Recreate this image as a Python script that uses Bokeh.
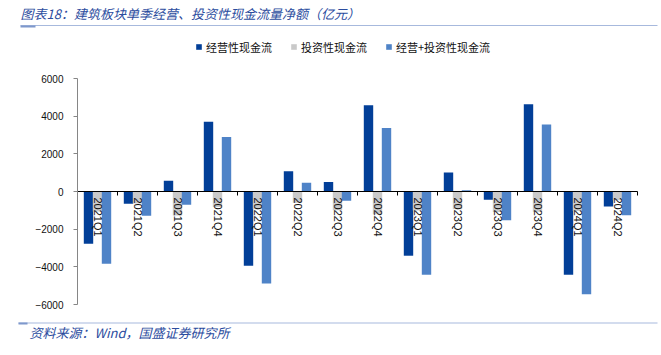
import numpy as np
from bokeh.plotting import figure
from bokeh.models import (Range1d, FixedTicker, Label, Legend, LegendItem,
                          BoxAnnotation, ColumnDataSource)
from bokeh.core.properties import value
from bokeh.transform import dodge
from bokeh.embed import file_html
from bokeh.resources import INLINE

# ---- data (亿元) ----
quarters = ["2021Q1", "2021Q2", "2021Q3", "2021Q4", "2022Q1", "2022Q2", "2022Q3",
            "2022Q4", "2023Q1", "2023Q2", "2023Q3", "2023Q4", "2024Q1", "2024Q2"]
operating = [-2780, -650, 570, 3710, -3940, 1070, 500, 4580, -3410, 1010, -440, 4630, -4420, -800]
investing = [-1060, -640, -1270, -820, -940, -600, -990, -1210, -1010, -940, -1090, -1070, -1030, -460]
combined = [-3840, -1290, -700, 2890, -4880, 470, -490, 3370, -4420, 70, -1530, 3560, -5450, -1260]
y_ticks = [-6000, -4000, -2000, 0, 2000, 4000, 6000]

series_names = ["经营性现金流", "投资性现金流", "经营+投资性现金流"]
colors = ["#023F98", "#C9C9C9", "#4F83C7"]
title_text = "图表18：建筑板块单季经营、投资性现金流量净额（亿元）"
source_text = "资料来源：Wind，国盛证券研究所"

# ---- layout (pixels) ----
W, H = 661, 355
plot_left, plot_right, plot_top, plot_bottom = 77, 637, 78, 304
n = len(quarters)
y_lo, y_hi = y_ticks[0], y_ticks[-1]
px_per_x = (plot_right - plot_left) / n
px_per_y = (plot_bottom - plot_top) / (y_hi - y_lo)
x_range = Range1d(-plot_left / px_per_x, n + (W - plot_right) / px_per_x)
y_range = Range1d(y_lo - (H - plot_bottom) / px_per_y, y_hi + plot_top / px_per_y)

src = ColumnDataSource(dict(
    x=[i + 0.5 for i in range(n)],
    q=quarters, op=operating, inv=investing, comb=combined,
))

p = figure(width=W, height=H, output_backend="svg", toolbar_location=None,
           x_range=x_range, y_range=y_range,
           min_border=0, min_border_left=0, min_border_right=0,
           min_border_top=0, min_border_bottom=0)
p.outline_line_color = None
p.xgrid.visible = False
p.ygrid.visible = False
p.background_fill_color = "white"
p.border_fill_color = "white"

w = 0.235
r1 = p.vbar(x=dodge("x", -0.225, range=p.x_range), top="op", bottom=0, width=w,
            source=src, fill_color=colors[0], line_color=None)
r2 = p.vbar(x="x", top="inv", bottom=0, width=w,
            source=src, fill_color=colors[1], line_color=None)
r3 = p.vbar(x=dodge("x", 0.225, range=p.x_range), top="comb", bottom=0, width=w,
            source=src, fill_color=colors[2], line_color=None)

# category labels just below the zero line, rotated
p.text(x="x", y=0, text="q", source=src, angle=-np.pi / 2,
       text_align="left", text_baseline="middle", y_offset=6,
       text_font=value("Liberation Sans"), text_font_size="11px", text_color="#111111")

# x axis at zero with ticks on category boundaries
xa = p.xaxis[0]
xa.fixed_location = 0
xa.bounds = (0, n)
xa.ticker = FixedTicker(ticks=list(range(n + 1)))
xa.major_label_overrides = {i: "" for i in range(n + 1)}
xa.major_tick_out = 4
xa.major_tick_in = 0
xa.minor_tick_line_color = None
xa.axis_line_color = "#000000"
xa.major_tick_line_color = "#000000"

ya = p.yaxis[0]
ya.fixed_location = 0
ya.bounds = (y_lo, y_hi)
ya.ticker = FixedTicker(ticks=y_ticks)
ya.major_tick_out = 4
ya.major_tick_in = 0
ya.minor_tick_line_color = None
ya.axis_line_color = "#868686"
ya.major_tick_line_color = "#868686"
ya.major_label_text_font = "Liberation Sans"
ya.major_label_text_font_size = "10px"
ya.major_label_text_color = "#111111"
ya.major_label_standoff = 10

legend = Legend(items=[LegendItem(label=series_names[0], renderers=[r1]),
                       LegendItem(label=series_names[1], renderers=[r2]),
                       LegendItem(label=series_names[2], renderers=[r3])],
                orientation="horizontal", location=(195, H - 54.5),
                border_line_color=None, background_fill_alpha=0,
                padding=0, margin=0, spacing=18, glyph_width=7, glyph_height=7,
                label_standoff=4, label_height=12,
                label_text_font="Noto Sans CJK SC", label_text_font_size="11px",
                label_text_color="#111111")
p.add_layout(legend)

# title, source, decorative rules
p.add_layout(Label(x=20, y=13, x_units="canvas", y_units="canvas", text=title_text,
                   text_font="Noto Sans CJK SC", text_font_style="italic",
                   text_font_size="13px", text_color="#2B4C9E", text_baseline="middle"))
p.add_layout(Label(x=29, y=332, x_units="canvas", y_units="canvas", text=source_text,
                   text_font="Noto Sans CJK SC", text_font_style="italic",
                   text_font_size="13px", text_color="#2B4C9E", text_baseline="middle"))
for (l, r, t, b, c) in [(20, 657, 24.5, 25.5, "#A7B9DD"), (20, 35, 25, 27, "#7E98CC"),
                        (18, 657, 322, 323, "#A7B9DD"), (18, 27, 322, 324, "#7E98CC")]:
    p.add_layout(BoxAnnotation(left=l, right=r, top=t, bottom=b,
                               left_units="canvas", right_units="canvas",
                               top_units="canvas", bottom_units="canvas",
                               fill_color=c, fill_alpha=1, line_color=None))

open("out.html", "w").write(file_html(p, INLINE))
